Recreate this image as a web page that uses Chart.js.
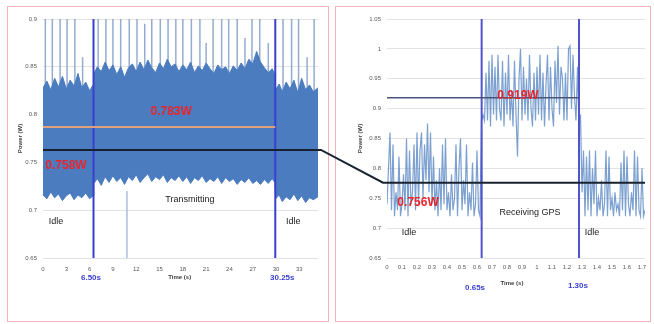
<!DOCTYPE html>
<html><head><meta charset="utf-8">
<script src="https://cdn.jsdelivr.net/npm/chart.js@4/dist/chart.umd.min.js"></script>
<style>
html,body{margin:0;padding:0;background:#fff;}
body{width:654px;height:324px;position:relative;overflow:hidden;}
.panel{position:absolute;border:1px solid #f3b3b6;box-sizing:border-box;}
canvas{position:absolute;top:0;}
</style></head><body>
<div class="panel" style="left:7px;top:6px;width:322px;height:316px"></div>
<div class="panel" style="left:335px;top:6px;width:316px;height:316px"></div>
<canvas id="left" width="330" height="324" style="left:0;width:330px;height:324px"></canvas>
<canvas id="right" width="324" height="324" style="left:330px;width:324px;height:324px"></canvas>
<canvas id="overlay" width="654" height="324" style="left:0;width:654px;height:324px;pointer-events:none"></canvas>
<script>
// ---------- LEFT CHART DATA (transmitting) ----------
const leftTimeTicks = [0,3,6,9,12,15,18,21,24,27,30,33];
const leftPowerTicks = [0.65,0.7,0.75,0.8,0.85,0.9];
const leftTimeMax = 35.4;
const bandTimes = [0,0.5,1,1.5,2,2.5,3,3.5,4,4.5,5,5.5,6,6.45,
  6.55,7,7.5,8,8.5,9,9.5,10,10.5,11,11.5,12,12.5,13,13.5,14,14.5,15,15.5,16,16.5,17,17.5,18,18.5,19,19.5,20,20.5,21,21.5,22,22.5,23,23.5,24,24.5,25,25.5,26,26.5,27,27.5,28,28.5,29,29.5,29.85,
  29.95,30.4,30.8,31.3,31.8,32.3,32.8,33.3,33.8,34.3,34.8,35.4];
const bandUpper = [0.828,0.835,0.826,0.838,0.829,0.840,0.827,0.836,0.830,0.843,0.828,0.834,0.825,0.831,
  0.843,0.850,0.845,0.855,0.846,0.852,0.842,0.850,0.839,0.849,0.853,0.845,0.855,0.847,0.857,0.849,0.844,0.854,0.848,0.858,0.850,0.853,0.845,0.852,0.847,0.855,0.844,0.851,0.846,0.854,0.848,0.843,0.852,0.847,0.850,0.843,0.851,0.846,0.854,0.848,0.858,0.853,0.866,0.855,0.849,0.844,0.848,0.842,
  0.826,0.832,0.824,0.834,0.827,0.836,0.823,0.838,0.826,0.831,0.824,0.828];
const bandLower = [0.716,0.712,0.719,0.713,0.717,0.710,0.715,0.718,0.711,0.716,0.713,0.718,0.712,0.715,
  0.728,0.733,0.726,0.735,0.729,0.736,0.730,0.734,0.727,0.735,0.731,0.737,0.729,0.734,0.738,0.730,0.735,0.732,0.737,0.729,0.734,0.731,0.736,0.730,0.735,0.728,0.734,0.731,0.736,0.729,0.733,0.730,0.735,0.728,0.734,0.730,0.733,0.727,0.732,0.729,0.734,0.728,0.731,0.727,0.732,0.728,0.733,0.729,
  0.712,0.716,0.709,0.714,0.711,0.717,0.710,0.715,0.708,0.713,0.711,0.714];
const spikeTimes = [0.3,1.2,2.2,3.1,4.1,5.1,7.1,8.1,9.0,10.0,11.1,12.1,13.1,14.0,15.1,16.1,17.1,18.0,19.1,20.2,21.0,21.9,23.0,23.9,25.0,26.0,26.9,27.9,29.0,30.9,32.0,32.9,34.0,34.9];
const spikeTops = [0.9,0.9,0.9,0.9,0.9,0.86,0.9,0.9,0.9,0.9,0.9,0.9,0.895,0.9,0.9,0.9,0.9,0.9,0.9,0.9,0.875,0.9,0.9,0.9,0.9,0.88,0.9,0.9,0.875,0.9,0.9,0.9,0.86,0.9];
const spikeBase = 0.80;
const dipTimes = [10.8];
const dipBottoms = [0.65];
const leftMarkerTimes = [6.5, 29.9];
const leftTransmitLevel = 0.787;
const leftIdleLevel = 0.763;

// ---------- RIGHT CHART DATA (receiving GPS) ----------
const rightTimeTicks = [0,0.1,0.2,0.3,0.4,0.5,0.6,0.7,0.8,0.9,1,1.1,1.2,1.3,1.4,1.5,1.6,1.7];
const rightPowerTicks = [0.65,0.7,0.75,0.8,0.85,0.9,0.95,1,1.05];
const rightTimeMax = 1.72;
const rightSampleStep = 0.01;
const rightPower = [
  0.74,0.80,0.86,0.73,0.84,0.72,0.76,0.73,0.82,0.72,
  0.74,0.79,0.73,0.85,0.72,0.83,0.74,0.76,0.84,0.73,
  0.86,0.74,0.83,0.86,0.75,0.84,0.78,0.875,0.76,0.86,
  0.74,0.82,0.73,0.78,0.72,0.80,0.73,0.84,0.74,0.85,
  0.73,0.76,0.72,0.79,0.73,0.75,0.84,0.72,0.80,0.85,
  0.73,0.78,0.74,0.84,0.72,0.76,0.73,0.81,0.72,0.74,
  0.83,0.73,0.72,0.88,0.89,
  0.88,0.96,0.88,0.98,0.87,0.99,0.89,0.97,0.88,0.99,
  0.90,0.88,0.98,0.87,0.96,0.89,0.99,0.88,0.93,0.87,
  0.98,0.89,0.82,0.95,1.00,0.88,0.97,0.89,0.95,0.88,
  0.99,0.90,0.87,0.96,0.88,0.97,0.89,0.99,0.88,0.96,
  0.87,0.94,0.99,0.88,0.97,0.90,0.87,0.98,0.91,1.005,
  0.89,0.97,0.95,0.88,0.96,0.88,1.00,1.005,0.90,0.99,
  0.92,0.88,0.97,0.87,0.89,
  0.76,0.83,0.72,0.82,0.73,0.83,0.72,0.80,0.74,0.83,
  0.72,0.75,0.73,0.78,0.72,0.74,0.83,0.72,0.82,0.73,
  0.75,0.72,0.76,0.73,0.74,0.72,0.81,0.73,0.83,0.72,
  0.82,0.74,0.72,0.76,0.73,0.83,0.72,0.82,0.73,0.72,
  0.80,0.72,0.73];
const rightMarkerTimes = [0.631, 1.28];
const rightGpsLevel = 0.918;
const rightIdleLevel = 0.776;

// ---------- helpers ----------
const pts = (xs, ys) => xs.map((x,i)=>({x:x, y:ys[i]}));
function segs(xs, y0s, y1s){
  const out=[];
  xs.forEach((x,i)=>{ out.push({x:x,y:y0s[i]},{x:x,y:y1s[i]},{x:x,y:null}); });
  return out;
}
const tickFont = {family:'Liberation Sans', size:6};
const tickColor = '#595959';

function textPlugin(items, yTitleX){
  return {
    id:'texts',
    afterDatasetsDraw(chart){
      const ctx=chart.ctx, xs=chart.scales.x, ys=chart.scales.y, ca=chart.chartArea;
      items.forEach(it=>{
        ctx.save();
        ctx.font=it.font; ctx.fillStyle=it.color;
        ctx.textAlign='center'; ctx.textBaseline='middle';
        const px=xs.getPixelForValue(it.x);
        const py=(it.below!=null)? ca.bottom+it.below : ys.getPixelForValue(it.y);
        ctx.fillText(it.text, px, py);
        ctx.restore();
      });
      ctx.save();
      ctx.translate(yTitleX, (ca.top+ca.bottom)/2);
      ctx.rotate(-Math.PI/2);
      ctx.font='bold 6px "Liberation Sans"'; ctx.fillStyle='#404040';
      ctx.textAlign='center'; ctx.textBaseline='middle';
      ctx.fillText('Power (W)',0,0);
      ctx.restore();
    }
  };
}

function scales(xTicks, xMax, yTicks, yMin, yMax, yWidth, xPad){
  return {
    x:{type:'linear', min:0, max:xMax,
       afterBuildTicks(s){ s.ticks = xTicks.map(v=>({value:v})); },
       afterFit(s){ s.height = 66; },
       grid:{display:false, drawTicks:false},
       border:{display:false},
       ticks:{autoSkip:false, maxRotation:0, padding:xPad, font:tickFont, color:tickColor,
              callback:v=>String(+(+v).toFixed(2))}},
    y:{type:'linear', min:yMin, max:yMax,
       afterBuildTicks(s){ s.ticks = yTicks.map(v=>({value:v})); },
       afterFit(s){ s.width = yWidth; },
       grid:{color:'#e2e2e2', lineWidth:1, drawTicks:false},
       border:{display:false},
       ticks:{padding:6, font:tickFont, color:tickColor,
              callback:v=>String(+(+v).toFixed(2))}}
  };
}
const red='#e8262c', blue='#3b3fcf';
const redFont='bold 12px "Liberation Sans"';
const txtFont='9px "Liberation Sans"';
const axFont='bold 8px "Liberation Sans"';

// ---------- LEFT CHART ----------
const leftChart = new Chart(document.getElementById('left'), {
  type:'line',
  data:{datasets:[
    {data:segs(spikeTimes, spikeTimes.map(()=>spikeBase), spikeTops), borderColor:'rgba(130,158,200,0.85)', borderWidth:1.5, order:10, spanGaps:false},
    {data:pts(bandTimes,bandUpper), borderColor:'#4a7cbf', backgroundColor:'#4a7cbf', borderWidth:1, fill:'+1', order:9},
    {data:pts(bandTimes,bandLower), borderColor:'#4a7cbf', borderWidth:1, fill:false, order:8},
    {data:segs(dipTimes, dipTimes.map(()=>0.72), dipBottoms), borderColor:'rgba(150,175,210,0.8)', borderWidth:1.5, order:7, spanGaps:false},
    {data:segs(leftMarkerTimes, leftMarkerTimes.map(()=>0.65), leftMarkerTimes.map(()=>0.9)), borderColor:blue, borderWidth:2, order:3, spanGaps:false},
    {data:[{x:0,y:leftTransmitLevel},{x:leftMarkerTimes[1],y:leftTransmitLevel}], borderColor:'#e3a07c', borderWidth:2, order:2},
    {data:[{x:0,y:leftIdleLevel},{x:leftTimeMax,y:leftIdleLevel}], borderColor:'#18222f', borderWidth:2, order:1}
  ]},
  options:{responsive:false, animation:false, devicePixelRatio:1,
    layout:{padding:{top:19,right:12,left:0,bottom:0}},
    elements:{point:{radius:0}, line:{tension:0}},
    plugins:{legend:{display:false}, tooltip:{enabled:false}},
    scales:scales(leftTimeTicks, leftTimeMax, leftPowerTicks, 0.65, 0.9, 43, 8)},
  plugins:[textPlugin([
    {text:'0.783W', x:16.5, y:0.803, font:redFont, color:red},
    {text:'0.758W', x:2.96, y:0.747, font:redFont, color:red},
    {text:'Transmitting', x:18.9, y:0.711, font:txtFont, color:'#222'},
    {text:'Idle', x:1.67, y:0.688, font:txtFont, color:'#222'},
    {text:'Idle', x:32.2, y:0.688, font:txtFont, color:'#222'},
    {text:'6.50s', x:6.18, below:20, font:axFont, color:blue},
    {text:'30.25s', x:30.8, below:20, font:axFont, color:blue},
    {text:'Time (s)', x:17.6, below:19, font:'bold 6px "Liberation Sans"', color:'#404040'}
  ], 20)]
});

// ---------- RIGHT CHART ----------
const rightChart = new Chart(document.getElementById('right'), {
  type:'line',
  data:{datasets:[
    {data:rightPower.map((v,i)=>({x:+(i*rightSampleStep).toFixed(2), y:v})), borderColor:'rgba(80,128,192,0.75)', borderWidth:1.2, order:10},
    {data:segs(rightMarkerTimes, rightMarkerTimes.map(()=>0.65), rightMarkerTimes.map(()=>1.05)), borderColor:'#4f53cc', borderWidth:2, order:3, spanGaps:false},
    {data:[{x:0,y:rightGpsLevel},{x:rightMarkerTimes[1],y:rightGpsLevel}], borderColor:'#4b5578', borderWidth:1.5, order:2},
    {data:[{x:0,y:rightIdleLevel},{x:rightTimeMax,y:rightIdleLevel}], borderColor:'#18222f', borderWidth:2, order:1}
  ]},
  options:{responsive:false, animation:false, devicePixelRatio:1,
    layout:{padding:{top:19,right:9,left:0,bottom:0}},
    elements:{point:{radius:0}, line:{tension:0}},
    plugins:{legend:{display:false}, tooltip:{enabled:false}},
    scales:scales(rightTimeTicks, rightTimeMax, rightPowerTicks, 0.65, 1.05, 57, 6)},
  plugins:[textPlugin([
    {text:'0.919W', x:0.873, y:0.922, font:redFont, color:red},
    {text:'0.756W', x:0.207, y:0.742, font:redFont, color:red},
    {text:'Receiving GPS', x:0.953, y:0.726, font:txtFont, color:'#222'},
    {text:'Idle', x:0.147, y:0.692, font:txtFont, color:'#222'},
    {text:'Idle', x:1.367, y:0.692, font:txtFont, color:'#222'},
    {text:'0.65s', x:0.587, below:30, font:axFont, color:blue},
    {text:'1.30s', x:1.273, below:28, font:axFont, color:blue},
    {text:'Time (s)', x:0.833, below:25, font:'bold 6px "Liberation Sans"', color:'#404040'}
  ], 30)]
});

// ---------- connector between the two idle levels ----------
(function(){
  const ctx=document.getElementById('overlay').getContext('2d');
  const xL=leftChart.chartArea.right, yL=leftChart.scales.y.getPixelForValue(leftIdleLevel);
  const xR=330+rightChart.chartArea.left, yR=rightChart.scales.y.getPixelForValue(rightIdleLevel);
  ctx.strokeStyle='#18222f'; ctx.lineWidth=2;
  ctx.beginPath(); ctx.moveTo(xL,yL); ctx.lineTo(xL+3,yL); ctx.lineTo(xR-4,yR); ctx.lineTo(xR,yR); ctx.stroke();
})();
</script>
</body></html>
